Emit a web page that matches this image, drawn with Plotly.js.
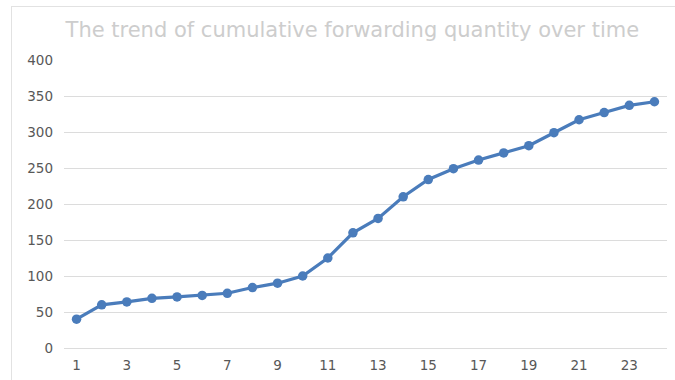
<!DOCTYPE html>
<html>
<head>
<meta charset="utf-8">
<script src="https://cdn.plot.ly/plotly-3.0.1.min.js"></script>
<style>
  html, body { margin: 0; padding: 0; background: #ffffff; }
  #wrap { position: relative; width: 675px; height: 380px; overflow: hidden; }
  #chart { position: absolute; left: 0; top: 0; width: 675px; height: 380px; }
  #frame {
    position: absolute; left: 11px; top: 6px; width: 700px; height: 400px;
    border-left: 1.5px solid #e2e2e2; border-top: 1.5px solid #e2e2e2;
    pointer-events: none;
  }
</style>
</head>
<body>
<div id="wrap">
  <div id="chart"></div>
  <div id="frame"></div>
</div>
<script>
// Time step (1..24) and cumulative forwarding count at each step
const steps = [1, 2, 3, 4, 5, 6, 7, 8, 9, 10, 11, 12, 13, 14, 15, 16, 17, 18, 19, 20, 21, 22, 23, 24];
const cumulativeForwards = [40, 60, 64, 69, 71, 73, 76, 84, 90, 100, 125, 160, 180, 210, 234, 249, 261, 271, 281, 299, 317, 327, 337, 342];
const xTickValues = [1, 3, 5, 7, 9, 11, 13, 15, 17, 19, 21, 23];
const yTickValues = [0, 50, 100, 150, 200, 250, 300, 350, 400];
const chartTitle = 'The trend of cumulative forwarding quantity over time';

const tickFont = { family: 'DejaVu Sans, Verdana, sans-serif', size: 13.5, color: '#585858' };

const trace = {
  x: steps,
  y: cumulativeForwards,
  type: 'scatter',
  mode: 'lines+markers',
  line: { color: '#4a7cbb', width: 3.2 },
  marker: { color: '#4a7cbb', size: 9.5 },
  hoverinfo: 'x+y'
};

const layout = {
  width: 675,
  height: 380,
  paper_bgcolor: '#ffffff',
  plot_bgcolor: '#ffffff',
  margin: { l: 64, r: 8, t: 60, b: 32 },
  showlegend: false,
  title: {
    text: chartTitle,
    font: { family: 'DejaVu Sans, Verdana, sans-serif', size: 21, color: '#cdcdcd' },
    x: 0.522, xanchor: 'center',
    y: 0.922, yanchor: 'middle'
  },
  xaxis: {
    range: [0.5, 24.5],
    tickmode: 'array',
    tickvals: xTickValues,
    ticktext: xTickValues.map(String),
    showgrid: false,
    zeroline: false,
    showline: false,
    ticks: '',
    ticklabelstandoff: 7,
    tickfont: tickFont,
    fixedrange: true
  },
  yaxis: {
    range: [0, 400],
    tickmode: 'array',
    tickvals: yTickValues,
    ticktext: yTickValues.map(String),
    showgrid: true,
    gridcolor: '#dcdcdc',
    gridwidth: 1,
    zeroline: true,
    zerolinecolor: '#dcdcdc',
    zerolinewidth: 1,
    showline: false,
    ticks: '',
    ticklabelstandoff: 10,
    tickfont: tickFont,
    fixedrange: true
  }
};

Plotly.newPlot('chart', [trace], layout, { displayModeBar: false, staticPlot: true });
</script>
</body>
</html>
